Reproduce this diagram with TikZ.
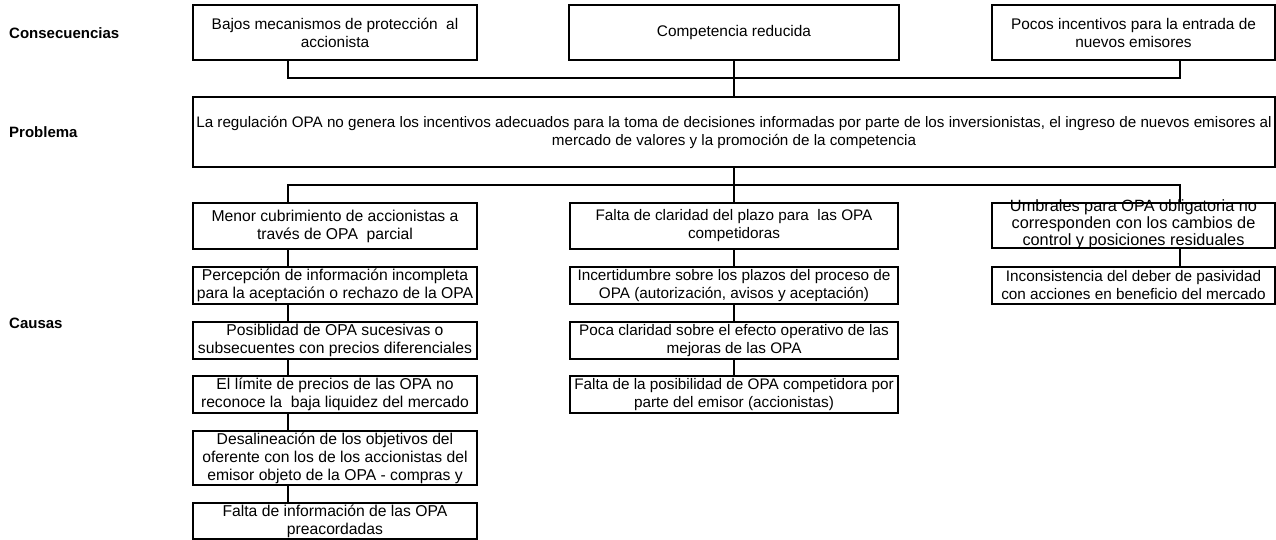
\documentclass[tikz,border=0pt]{standalone}
\usepackage{fontspec}
\setmainfont{Liberation Sans}
\begin{document}
\begin{tikzpicture}[x=1pt,y=-1pt,
  lbl/.style={anchor=west,inner sep=0,font=\bfseries\fontsize{15}{17}\selectfont},
  box/.style={draw,line width=1.6pt,inner sep=0,align=center},
  ftop/.style={font=\fontsize{15.4}{18}\selectfont},
  fprob/.style={font=\fontsize{15.2}{18}\selectfont},
  fcola/.style={font=\fontsize{15.7}{18}\selectfont},
  fcolb/.style={font=\fontsize{15.3}{18}\selectfont},
  fcolc/.style={font=\fontsize{15.3}{18}\selectfont},
  txt/.style={inner sep=0,align=center,font=\fontsize{16.3}{17}\selectfont},
  conn/.style={line width=1.6pt}]
\useasboundingbox (0,0) rectangle (1276,540);
% labels
\node[lbl] (lc) at (9,33) {Consecuencias};
\node[lbl] (lp) at (9,132) {Problema};
\node[lbl] (lk) at (9,323) {Causas};
% consequences
\node[box,ftop,minimum width=284,minimum height=55] (c1) at (335,32.5) {Bajos mecanismos de protección~ al\\accionista};
\node[box,ftop,minimum width=330,minimum height=55] (c2) at (734,32.5) {Competencia reducida};
\node[box,ftop,minimum width=283,minimum height=55] (c3) at (1133.5,32.5) {Pocos incentivos para la entrada de\\nuevos emisores};
% problem
\node[box,fprob,minimum width=1082,minimum height=70] (p) at (734,132) {La regulación OPA no genera los incentivos adecuados para la toma de decisiones informadas por parte de los inversionistas, el ingreso de nuevos emisores al\\mercado de valores y la promoción de la competencia};
% causes column 1
\node[box,fcola,minimum width=284,minimum height=46] (l1) at (335,226) {Menor cubrimiento de accionistas a\\través de OPA~ parcial};
\node[box,fcola,minimum width=284,minimum height=37] (l2) at (335,285.5) {Percepción de información incompleta\\para la aceptación o rechazo de la OPA};
\node[box,fcola,minimum width=284,minimum height=37] (l3) at (335,340.5) {Posiblidad de OPA sucesivas o\\subsecuentes con precios diferenciales};
\node[box,fcola,minimum width=284,minimum height=37] (l4) at (335,394.5) {El límite de precios de las OPA no\\reconoce la~ baja liquidez del mercado};
\node[box,fcola,minimum width=284,minimum height=54] (l5) at (335,458) {Desalineación de los objetivos del\\oferente con los de los accionistas del\\emisor objeto de la OPA - compras y};
\node[box,fcola,minimum width=284,minimum height=36] (l6) at (335,521) {Falta de información de las OPA\\preacordadas};
% causes column 2
\node[box,fcolb,minimum width=328,minimum height=46] (m1) at (734,226) {Falta de claridad del plazo para~ las OPA\\competidoras};
\node[box,fcolb,minimum width=328,minimum height=37] (m2) at (734,285.5) {Incertidumbre sobre los plazos del proceso de\\OPA (autorización, avisos y aceptación)};
\node[box,fcolb,minimum width=328,minimum height=37] (m3) at (734,340.5) {Poca claridad sobre el efecto operativo de las\\mejoras de las OPA};
\node[box,fcolb,minimum width=328,minimum height=37] (m4) at (734,394.5) {Falta de la posibilidad de OPA competidora por\\parte del emisor (accionistas)};
% causes column 3
\node[txt] (r1t) at (1133.5,224.5) {Umbrales para OPA obligatoria no\\corresponden con los cambios de\\control y posiciones residuales};
\node[box,minimum width=283,minimum height=45] (r1) at (1133.5,225.5) {};
\node[box,fcolc,minimum width=283,minimum height=37] (r2) at (1133.5,285.5) {Inconsistencia del deber de pasividad\\con acciones en beneficio del mercado};
% bus coordinates
\coordinate (lx) at (288,0);
\coordinate (rx) at (1180,0);
\coordinate (bus1) at (734,78);
\coordinate (bus2) at (734,185);
% connectors top
\draw[conn] (c1.south -| lx) |- (bus1) -| (c3.south -| rx);
\draw[conn] (c2.south) -- (p.north);
% connectors bottom
\draw[conn] (p.south) -- (m1.north);
\draw[conn] (l1.north -| lx) |- (bus2) -| (r1.north -| rx);
% chains
\draw[conn] (l1.south -| lx) -- (l2.north -| lx);
\draw[conn] (l2.south -| lx) -- (l3.north -| lx);
\draw[conn] (l3.south -| lx) -- (l4.north -| lx);
\draw[conn] (l4.south -| lx) -- (l5.north -| lx);
\draw[conn] (l5.south -| lx) -- (l6.north -| lx);
\draw[conn] (m1.south) -- (m2.north);
\draw[conn] (m2.south) -- (m3.north);
\draw[conn] (m3.south) -- (m4.north);
\draw[conn] (r1.south -| rx) -- (r2.north -| rx);
\end{tikzpicture}
\end{document}
